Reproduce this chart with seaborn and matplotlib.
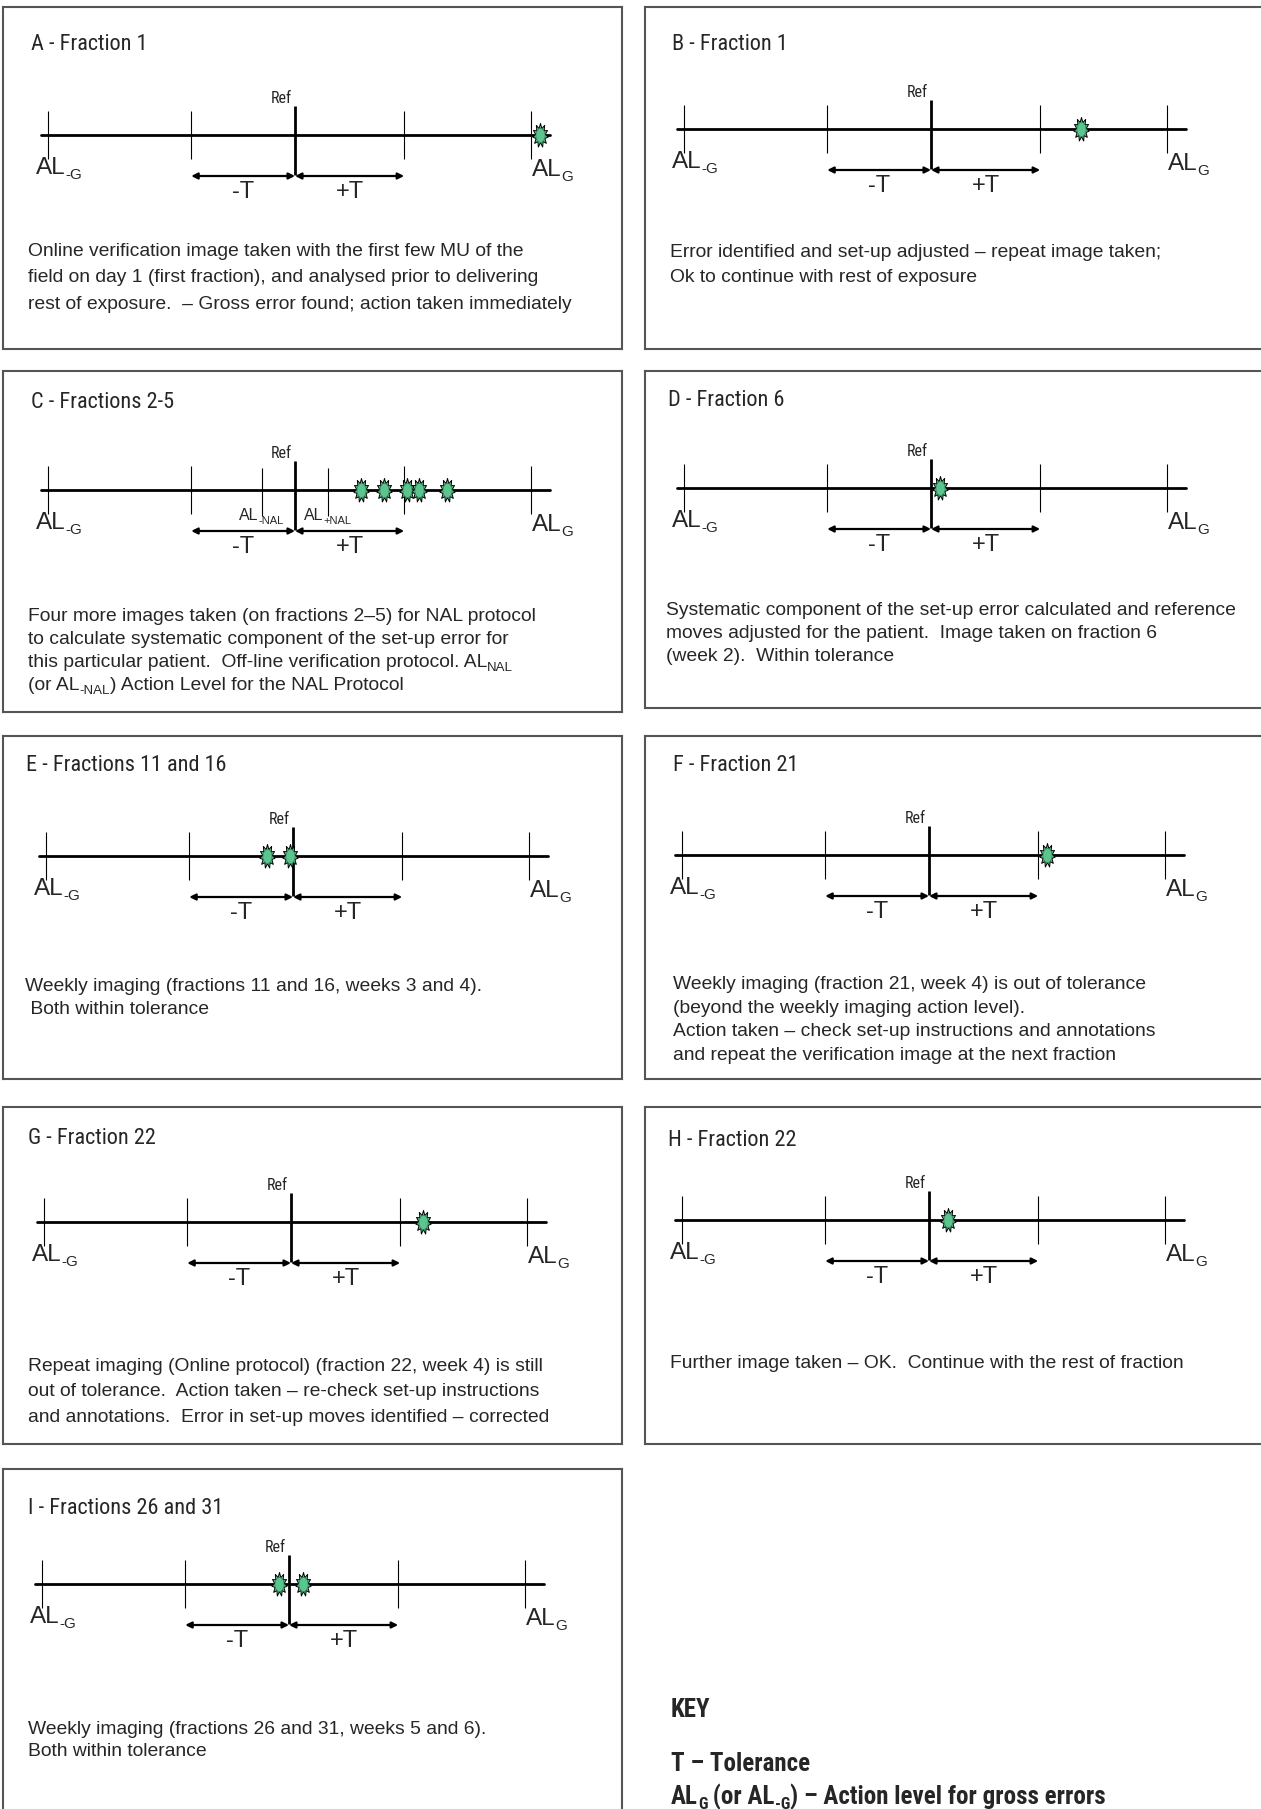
import re
import numpy as np
import matplotlib
matplotlib.use("Agg")
import matplotlib.pyplot as plt
import seaborn as sns
from matplotlib.path import Path
from matplotlib.markers import MarkerStyle
from matplotlib import font_manager

# ---------------- data ----------------
panel_titles = ["A - Fraction 1", "B - Fraction 1", "C - Fractions 2-5", "D - Fraction 6",
                "E - Fractions 11 and 16", "F - Fraction 21", "G - Fraction 22",
                "H - Fraction 22", "I - Fractions 26 and 31"]

descriptions = [
    "Online verification image taken with the first few MU of the\n"
    "field on day 1 (first fraction), and analysed prior to delivering\n"
    "rest of exposure.  \u2013 Gross error found; action taken immediately",
    "Error identified and set-up adjusted \u2013 repeat image taken;\n"
    "Ok to continue with rest of exposure",
    "Four more images taken (on fractions 2\u20135) for NAL protocol\n"
    "to calculate systematic component of the set-up error for\n"
    "this particular patient.  Off-line verification protocol. AL_{NAL}\n"
    "(or AL_{-NAL}) Action Level for the NAL Protocol",
    "Systematic component of the set-up error calculated and reference\n"
    "moves adjusted for the patient.  Image taken on fraction 6\n"
    "(week 2).  Within tolerance",
    "Weekly imaging (fractions 11 and 16, weeks 3 and 4).\n"
    " Both within tolerance",
    "Weekly imaging (fraction 21, week 4) is out of tolerance\n"
    "(beyond the weekly imaging action level).\n"
    "Action taken \u2013 check set-up instructions and annotations\n"
    "and repeat the verification image at the next fraction",
    "Repeat imaging (Online protocol) (fraction 22, week 4) is still\n"
    "out of tolerance.  Action taken \u2013 re-check set-up instructions\n"
    "and annotations.  Error in set-up moves identified \u2013 corrected",
    "Further image taken \u2013 OK.  Continue with the rest of fraction",
    "Weekly imaging (fractions 26 and 31, weeks 5 and 6).\n"
    "Both within tolerance",
]

# image positions (in tolerance units, Ref = 0)
stars_A = [2.29]
stars_B = [1.40]
stars_C = [0.62, 0.83, 1.05, 1.16, 1.42]
stars_D = [0.08]
stars_E = [-0.24, -0.03]
stars_F = [1.10]
stars_G = [1.23]
stars_H = [0.18]
stars_I = [-0.09, 0.13]
stars = [stars_A, stars_B, stars_C, stars_D, stars_E, stars_F, stars_G, stars_H, stars_I]

gross_ticks = [-2.31, 2.21]     # AL-G, ALG
gross_labels = ["AL_{-G}", "AL_{G}"]
tol_ticks = [-0.97, 1.02]       # -T, +T
tol_labels = ["-T", "+T"]
ref_pos = 0.0
nal_ticks = [-0.31, 0.31]       # panel C only
nal_labels = ["AL_{-NAL}", "AL_{+NAL}"]
line_extent = [-2.37, 2.38]

key_lines = ["KEY", "T \u2013 Tolerance",
             "AL_{G} (or AL_{-G}) \u2013 Action level for gross errors"]

# ---------------- layout (pixels) ----------------
W, H, DPI = 1261, 1809, 100
TPX = 107.0  # pixels per tolerance unit
# x0, y0, w, h, ref_px, line_px, title_x, title_y, desc_x, desc_y, desc_sp
layout = [
    (3, 7, 619, 342, 292, 128, 28, 38, 25, 242, 26.5),
    (645, 7, 619, 342, 286, 122, 27, 37, 25, 243, 25.5),
    (3, 371, 619, 341, 292, 119, 28, 31, 25, 243, 23.0),
    (645, 371, 619, 337, 286, 117, 23, 30, 21, 237, 23.0),
    (3, 736, 619, 343, 290, 120, 23, 30, 22, 248, 23.0),
    (645, 736, 619, 343, 284, 119, 28, 30, 28, 246, 23.6),
    (3, 1107, 619, 337, 288, 115, 25, 31, 25, 257, 25.4),
    (645, 1107, 619, 337, 284, 113, 23, 33, 25, 254, 25.0),
    (3, 1469, 619, 350, 286, 115, 25, 39, 25, 258, 22.0),
]

sns.set_theme(style="white")
names = {f.name for f in font_manager.fontManager.ttflist}
NARROW = None
for cand in ["Liberation Sans Narrow", "Arial Narrow", "Roboto Condensed"]:
    if cand in names:
        NARROW = cand
        break
NSCALE = 1.0
if NARROW is None:
    NARROW = "Liberation Sans"
    NSCALE = 0.87
plt.rcParams["font.family"] = ["Liberation Sans", "DejaVu Sans"]

GREEN = "#5cc48e"

fig = plt.figure(figsize=(W / DPI, H / DPI), dpi=DPI)
fig.patch.set_facecolor("white")
renderer = fig.canvas.get_renderer()


def split_parts(s):
    bits = re.split(r"_\{(.*?)\}", s)
    return [(b, k % 2 == 1) for k, b in enumerate(bits) if b]


def draw_parts(ax, xy, xycoords, s, fs, sub_fs, drop, ha="left", dx=0, dy=0, **kw):
    arts, off = [], 0.0
    for txt, sub in split_parts(s):
        t = ax.annotate(txt, xy=xy, xycoords=xycoords,
                        xytext=(dx + off, dy - (drop if sub else 0)), textcoords="offset pixels",
                        fontsize=sub_fs if sub else fs, ha="left", va="baseline",
                        annotation_clip=False, **kw)
        off += t.get_window_extent(renderer).width
        arts.append(t)
    if ha == "center":
        for t in arts:
            ox, oy = t.xyann
            t.xyann = (ox - off / 2, oy)
    return arts


def starburst(n=11, ro=(0.32, 0.5), ri=(0.2, 0.3)):
    k = np.arange(2 * n)
    ang = np.pi / 2 + k * np.pi / n
    rx = np.where(k % 2 == 0, ro[0], ri[0])
    ry = np.where(k % 2 == 0, ro[1], ri[1])
    v = np.column_stack([rx * np.cos(ang), ry * np.sin(ang)])
    v = np.vstack([v, v[:1]])
    codes = [Path.MOVETO] + [Path.LINETO] * (2 * n - 1) + [Path.CLOSEPOLY]
    return Path(v, codes)


def ellipse(rx=0.32, ry=0.5):
    t = np.linspace(0, 2 * np.pi, 41)
    v = np.column_stack([rx * np.cos(t), ry * np.sin(t)])
    codes = [Path.MOVETO] + [Path.LINETO] * 39 + [Path.CLOSEPOLY]
    return Path(v, codes)


STAR = MarkerStyle(starburst())
OVAL = MarkerStyle(ellipse())

for i, (x0, y0, w, h, rpx, lpx, tx, ty, dx, dy, dsp) in enumerate(layout):
    ax = fig.add_axes([x0 / W, 1 - (y0 + h) / H, w / W, h / H])
    ax.set_xlim(-rpx / TPX, (w - rpx) / TPX)
    ax.set_ylim(-(h - lpx), lpx)
    ax.set_xticks([]); ax.set_yticks([])
    for s in ax.spines.values():
        s.set_visible(True); s.set_color("#555555"); s.set_linewidth(1.5)
    ax.set_facecolor("white")

    # title
    ax.text(tx / w, 1 - ty / h, panel_titles[i], transform=ax.transAxes,
            ha="left", va="center", fontsize=16 * NSCALE, family=NARROW)
    # description
    for j, line in enumerate(descriptions[i].split("\n")):
        draw_parts(ax, (dx / w, 1 - (dy + j * dsp + 7) / h), "axes fraction", line,
                   13.9, 9.5, 4)

    # main line
    sns.lineplot(x=line_extent, y=[0, 0], color="black", linewidth=2.0, ax=ax,
                 estimator=None, sort=False, legend=False)
    # ticks
    ax.vlines(gross_ticks + tol_ticks, -24, 24, color="black", linewidth=0.8)
    ax.vlines([ref_pos], -40, 29, color="black", linewidth=2.0)
    if i == 2:
        ax.vlines(nal_ticks, -26, 22, color="black", linewidth=0.8)
        for xv, lab in zip(nal_ticks, nal_labels):
            draw_parts(ax, (xv, -30), "data", lab, 11.5, 8, 3.5, ha="center")

    # Ref label
    ax.annotate("Ref", xy=(ref_pos, 29), xytext=(-3, 0), textcoords="offset pixels",
                ha="right", va="bottom", fontsize=11.5, family=NARROW)
    # gross labels
    draw_parts(ax, (gross_ticks[0], -39), "data", gross_labels[0], 17.5, 11, 5, dx=-12)
    draw_parts(ax, (gross_ticks[1], -41), "data", gross_labels[1], 17.5, 11, 5)
    # tolerance arrows
    for a, b in [(tol_ticks[0], ref_pos), (ref_pos, tol_ticks[1])]:
        ax.annotate("", xy=(a, -41), xytext=(b, -41),
                    arrowprops=dict(arrowstyle="<|-|>", color="black", lw=1.6,
                                    mutation_scale=9, shrinkA=0, shrinkB=0))
    ax.text((tol_ticks[0] + ref_pos) / 2, -63, tol_labels[0], ha="center", va="baseline", fontsize=17)
    ax.text((tol_ticks[1] + ref_pos) / 2, -63, tol_labels[1], ha="center", va="baseline", fontsize=17)

    # images (stars)
    xs = stars[i]
    sns.scatterplot(x=xs, y=[0] * len(xs), marker=STAR, s=300, color=GREEN,
                    edgecolor="black", linewidth=0.7, ax=ax, zorder=6, legend=False)
    sns.scatterplot(x=xs, y=[0] * len(xs), marker=OVAL, s=105, color=GREEN,
                    edgecolor="#2f7f55", linewidth=0.5, ax=ax, zorder=7, legend=False)

# KEY
kax = fig.add_axes([0, 0, 1, 1], zorder=-1)
kax.set_axis_off()
kfs = 18 * NSCALE
draw_parts(kax, (671, H - 1717), "figure pixels", key_lines[0], kfs, kfs * 0.65, 5,
           fontweight="bold", family=NARROW)
draw_parts(kax, (671, H - 1771), "figure pixels", key_lines[1], kfs, kfs * 0.65, 5,
           fontweight="bold", family=NARROW)
draw_parts(kax, (671, H - 1804), "figure pixels", key_lines[2], kfs, kfs * 0.65, 5,
           fontweight="bold", family=NARROW)

fig.savefig("out.png", dpi=DPI, facecolor="white")
